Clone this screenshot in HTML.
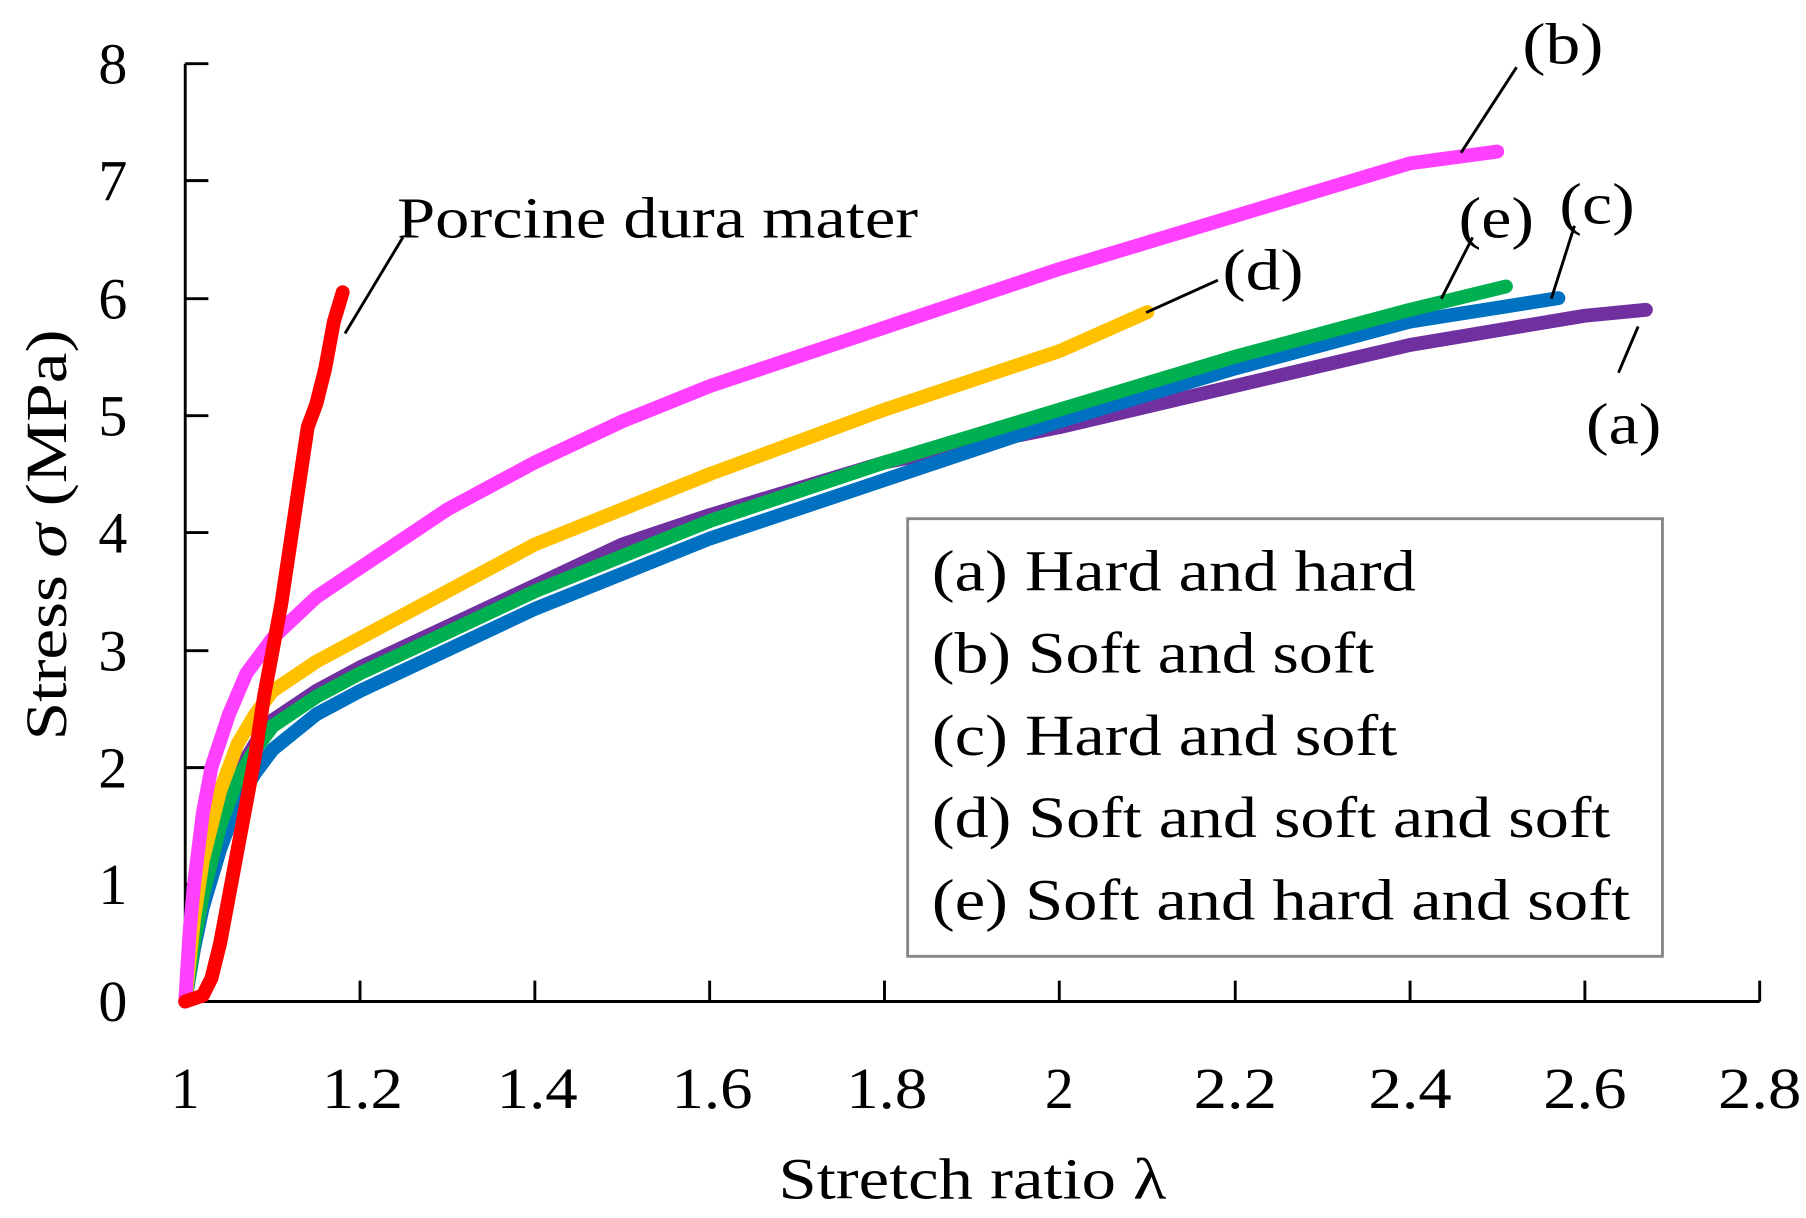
<!DOCTYPE html>
<html><head><style>html,body{margin:0;padding:0;background:#fff}svg{display:block}</style></head><body>
<svg width="1806" height="1218" viewBox="0 0 1560 1052" preserveAspectRatio="none" xmlns="http://www.w3.org/2000/svg" font-family="Liberation Serif, serif">
<g stroke="#000" stroke-width="2.5" fill="none">
<path d="M160,55 V865 H1520"/>
<path d="M160,55h20M160,156h20M160,258h20M160,359h20M160,460h20M160,562h20M160,663h20M160,764h20"/>
<path d="M311,865v-18M462,865v-18M613,865v-18M764,865v-18M915,865v-18M1067,865v-18M1218,865v-18M1369,865v-18M1520,865v-18"/>
</g>
<g font-size="50" text-anchor="end" fill="#000">
<text x="110" y="882">0</text><text x="110" y="781">1</text><text x="110" y="680">2</text><text x="110" y="579">3</text><text x="110" y="477">4</text><text x="110" y="376">5</text><text x="110" y="275">6</text><text x="110" y="173">7</text><text x="110" y="72">8</text>
</g>
<g font-size="50" text-anchor="middle" fill="#000">
<text x="160" y="957">1</text><text x="313" y="957" textLength="70" lengthAdjust="spacingAndGlyphs">1.2</text><text x="464" y="957" textLength="70" lengthAdjust="spacingAndGlyphs">1.4</text><text x="615" y="957" textLength="70" lengthAdjust="spacingAndGlyphs">1.6</text><text x="766" y="957" textLength="70" lengthAdjust="spacingAndGlyphs">1.8</text><text x="915" y="957">2</text><text x="1067" y="957" textLength="72" lengthAdjust="spacingAndGlyphs">2.2</text><text x="1218" y="957" textLength="72" lengthAdjust="spacingAndGlyphs">2.4</text><text x="1369" y="957" textLength="72" lengthAdjust="spacingAndGlyphs">2.6</text><text x="1520" y="957" textLength="72" lengthAdjust="spacingAndGlyphs">2.8</text>
<text x="840" y="1035" textLength="335" lengthAdjust="spacingAndGlyphs">Stretch ratio λ</text>
<text transform="translate(57,462) rotate(-90)" textLength="355" lengthAdjust="spacingAndGlyphs">Stress <tspan font-style="italic">σ</tspan> (MPa)</text>
</g>
<g id="curves" fill="none" stroke-width="12" stroke-linecap="round" stroke-linejoin="round"></g>
<g stroke="#000" stroke-width="2.5">
<line x1="348" y1="205" x2="298" y2="288"/>
<line x1="1310" y1="58" x2="1262" y2="132"/>
<line x1="1272" y1="205" x2="1245" y2="258"/>
<line x1="1360" y1="195" x2="1340" y2="258"/>
<line x1="1398" y1="322" x2="1415" y2="282"/>
<line x1="1052" y1="242" x2="990" y2="270"/>
</g>
<g font-size="50" fill="#000">
<text x="343" y="205" textLength="450" lengthAdjust="spacingAndGlyphs">Porcine dura mater</text>
<text x="1315" y="55" textLength="70" lengthAdjust="spacingAndGlyphs">(b)</text>
<text x="1260" y="205" textLength="65" lengthAdjust="spacingAndGlyphs">(e)</text>
<text x="1347" y="193" textLength="65" lengthAdjust="spacingAndGlyphs">(c)</text>
<text x="1370" y="383" textLength="65" lengthAdjust="spacingAndGlyphs">(a)</text>
<text x="1056" y="250" textLength="70" lengthAdjust="spacingAndGlyphs">(d)</text>
</g>
<rect x="784" y="448" width="652" height="378" fill="#fff" stroke="#888" stroke-width="2.5"/>
<g font-size="50" fill="#000" lengthAdjust="spacingAndGlyphs">
<text x="805" y="510" textLength="418" lengthAdjust="spacingAndGlyphs">(a) Hard and hard</text>
<text x="805" y="581" textLength="382" lengthAdjust="spacingAndGlyphs">(b) Soft and soft</text>
<text x="805" y="652" textLength="402" lengthAdjust="spacingAndGlyphs">(c) Hard and soft</text>
<text x="805" y="723" textLength="586" lengthAdjust="spacingAndGlyphs">(d) Soft and soft and soft</text>
<text x="805" y="794" textLength="603" lengthAdjust="spacingAndGlyphs">(e) Soft and hard and soft</text>
</g>
</svg>
<script>
var D={
"#7030a0":[[1,0],[1.01,0.55],[1.02,0.95],[1.04,1.55],[1.06,1.95],[1.08,2.2],[1.1,2.4],[1.15,2.65],[1.2,2.85],[1.3,3.2],[1.4,3.55],[1.5,3.9],[1.6,4.15],[1.8,4.6],[2.0,4.9],[2.2,5.25],[2.4,5.6],[2.6,5.85],[2.67,5.9]],
"#0070c0":[[1,0],[1.01,0.45],[1.02,0.8],[1.04,1.3],[1.06,1.7],[1.08,1.95],[1.1,2.15],[1.15,2.45],[1.2,2.65],[1.3,3.0],[1.4,3.35],[1.6,3.95],[1.8,4.45],[2.0,4.95],[2.2,5.4],[2.4,5.8],[2.57,6.0]],
"#00b050":[[1,0],[1.01,0.5],[1.02,0.9],[1.04,1.5],[1.06,1.9],[1.08,2.15],[1.1,2.35],[1.15,2.6],[1.2,2.8],[1.3,3.15],[1.4,3.5],[1.6,4.1],[1.8,4.6],[2.0,5.05],[2.2,5.5],[2.4,5.9],[2.51,6.1]],
"#ffc000":[[1,0],[1.01,0.7],[1.02,1.2],[1.04,1.8],[1.06,2.2],[1.08,2.45],[1.1,2.65],[1.15,2.9],[1.2,3.1],[1.3,3.5],[1.4,3.9],[1.6,4.5],[1.8,5.05],[2.0,5.55],[2.1,5.88]],
"#ff40ff":[[1,0],[1.005,0.6],[1.01,1.0],[1.02,1.6],[1.03,2.0],[1.05,2.45],[1.07,2.8],[1.1,3.1],[1.15,3.45],[1.2,3.7],[1.3,4.2],[1.4,4.6],[1.5,4.95],[1.6,5.25],[1.8,5.75],[2.0,6.25],[2.2,6.7],[2.4,7.15],[2.5,7.25]],
"#ff0000":[[1.0,0],[1.02,0.05],[1.03,0.2],[1.04,0.5],[1.05,0.9],[1.06,1.3],[1.07,1.7],[1.08,2.1],[1.09,2.6],[1.1,3.0],[1.11,3.4],[1.12,3.9],[1.13,4.4],[1.14,4.9],[1.15,5.1],[1.16,5.4],[1.17,5.8],[1.18,6.05]]};
var g=document.getElementById("curves"),h="";
for(var c in D){var p=D[c].map(function(q){return (160+(q[0]-1)*755.5).toFixed(1)+","+(865-q[1]*101.25).toFixed(1)}).join(" ");
h+='<polyline stroke="'+c+'" points="'+p+'"/>';}
g.innerHTML=h;
</script>
</body></html>
